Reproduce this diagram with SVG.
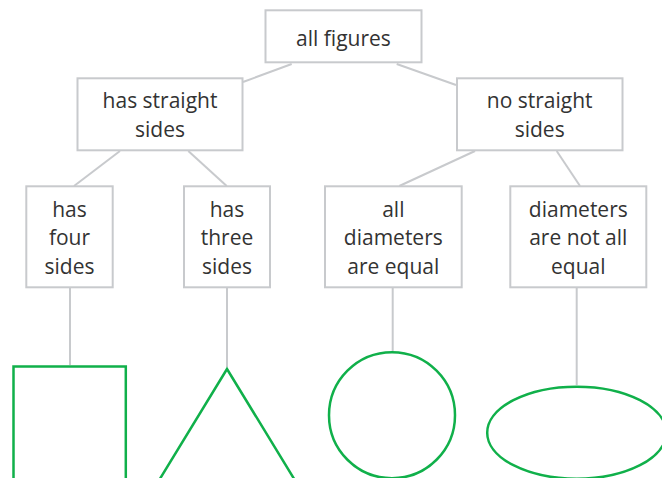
<svg xmlns="http://www.w3.org/2000/svg" width="662" height="478" viewBox="0 0 662 478">
<style>
.box{fill:#ffffff;stroke:#c8cacd;stroke-width:2}
.con{stroke:#c8cacd;stroke-width:2;fill:none}
.lbl{font-family:"Open Sans","Noto Sans",sans-serif;font-size:21px;fill:#333333;text-anchor:middle}
.shape{fill:none;stroke:#10b04a;stroke-width:2.5}
</style>
<rect width="662" height="478" fill="#ffffff"/>
<g id="connectors">
<line class="con" x1="291.7" y1="64" x2="243" y2="82"/>
<line class="con" x1="396.7" y1="64" x2="456" y2="85"/>
<line class="con" x1="120" y1="151" x2="74" y2="186"/>
<line class="con" x1="188.3" y1="151" x2="226.7" y2="186"/>
<line class="con" x1="475" y1="151" x2="399.3" y2="186"/>
<line class="con" x1="556.7" y1="151" x2="580" y2="186"/>
<line class="con" x1="70" y1="288" x2="70" y2="365"/>
<line class="con" x1="227" y1="288" x2="227" y2="367"/>
<line class="con" x1="392.7" y1="288" x2="392.7" y2="351"/>
<line class="con" x1="576.7" y1="288" x2="576.7" y2="385"/>
</g>
<g id="all-figures">
<rect class="box" x="265.5" y="10.3" width="156" height="52"/>
<text class="lbl" x="343.5" y="46">all figures</text>
</g>
<g id="has-straight-sides">
<rect class="box" x="77.5" y="78.3" width="165" height="72"/>
<text class="lbl" x="160" y="108.3">has straight</text>
<text class="lbl" x="160" y="136.7">sides</text>
</g>
<g id="no-straight-sides">
<rect class="box" x="457" y="78.3" width="165.5" height="72"/>
<text class="lbl" x="539.7" y="108.3">no straight</text>
<text class="lbl" x="539.7" y="136.7">sides</text>
</g>
<g id="has-four-sides">
<rect class="box" x="26.3" y="186.3" width="86.4" height="101"/>
<text class="lbl" x="69.5" y="216.5">has</text>
<text class="lbl" x="69.5" y="245">four</text>
<text class="lbl" x="69.5" y="273.5">sides</text>
</g>
<g id="has-three-sides">
<rect class="box" x="184" y="186.3" width="86" height="101"/>
<text class="lbl" x="227" y="216.5">has</text>
<text class="lbl" x="227" y="245">three</text>
<text class="lbl" x="227" y="273.5">sides</text>
</g>
<g id="all-diameters-equal">
<rect class="box" x="325" y="186.3" width="136.7" height="101"/>
<text class="lbl" x="393.3" y="216.5">all</text>
<text class="lbl" x="393.3" y="245">diameters</text>
<text class="lbl" x="393.3" y="273.5">are equal</text>
</g>
<g id="diameters-not-all-equal">
<rect class="box" x="510.3" y="186.3" width="136" height="101"/>
<text class="lbl" x="578.3" y="216.5">diameters</text>
<text class="lbl" x="578.3" y="245">are not all</text>
<text class="lbl" x="578.3" y="273.5">equal</text>
</g>
<g id="square">
<rect class="shape" x="13.5" y="366.5" width="112.3" height="140"/>
</g>
<g id="triangle">
<polyline class="shape" points="147,500 227,369 307,500"/>
</g>
<g id="circle">
<circle class="shape" cx="392" cy="415.2" r="63"/>
</g>
<g id="ellipse">
<ellipse class="shape" cx="576.7" cy="432.7" rx="89.5" ry="46"/>
</g>
</svg>
